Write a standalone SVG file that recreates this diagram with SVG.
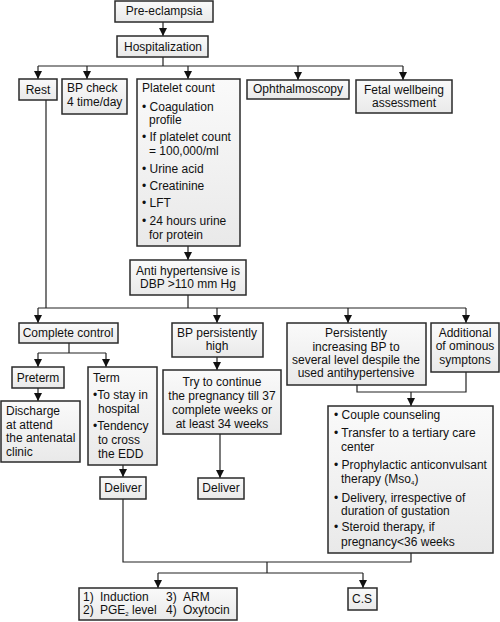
<svg xmlns="http://www.w3.org/2000/svg" width="500" height="622" viewBox="0 0 500 622">
<defs>
<linearGradient id="g" x1="0" y1="0" x2="0" y2="1"><stop offset="0" stop-color="#fafafa"/><stop offset="1" stop-color="#e9e9e9"/></linearGradient>
<marker id="ah" viewBox="0 0 10 10" refX="10" refY="5" markerWidth="8" markerHeight="8" markerUnits="userSpaceOnUse" orient="auto"><path d="M0,0 L10,5 L0,10 z" fill="#111"/></marker>
<style>
rect{fill:url(#g);stroke:#2a2a2a;stroke-width:1.5}
text{font-family:"Liberation Sans",Arial,sans-serif;font-size:12px;fill:#111}
.c{text-anchor:middle}
.con path{fill:none;stroke:#222;stroke-width:1.2}
.a{marker-end:url(#ah)}
.sub{font-size:6px}
</style>
</defs>
<rect x="0" y="0" width="500" height="622" style="fill:#fff;stroke:none"/>
<g class="con">
<path class="a" d="M163,22 V36"/>
<path d="M163,57 V66 M38,66 H403"/>
<path class="a" d="M38,66 V79"/>
<path class="a" d="M87,66 V79"/>
<path class="a" d="M188,66 V79"/>
<path class="a" d="M298,66 V80"/>
<path class="a" d="M403,66 V80"/>
<path class="a" d="M188,246 V260"/>
<path d="M46,100 V308 M188,295 V308 M38,308 H466"/>
<path class="a" d="M38,308 V323"/>
<path class="a" d="M217,308 V323"/>
<path class="a" d="M348,308 V323"/>
<path class="a" d="M466,308 V323"/>
<path d="M69,343 V353 M38,353 H106"/>
<path class="a" d="M38,353 V367"/>
<path class="a" d="M106,353 V367"/>
<path class="a" d="M38,388 V401"/>
<path class="a" d="M123,465 V477"/>
<path class="a" d="M217,357 V370"/>
<path class="a" d="M220,434 V478"/>
<path d="M357,385 V392 H466 V372"/>
<path class="a" d="M411,392 V406"/>
<path d="M123,499 V562 H411 V553 M267,562 V573 M158,573 H363"/>
<path class="a" d="M158,573 V588"/>
<path class="a" d="M363,573 V588"/>
</g>
<g id="pre"><rect x="115" y="1" width="98" height="21"/><text class="c" x="164" y="15">Pre-eclampsia</text></g>
<g id="hosp"><rect x="117" y="36" width="91" height="21"/><text class="c" x="163" y="51">Hospitalization</text></g>
<g id="rest"><rect x="19" y="79" width="38" height="21"/><text class="c" x="38" y="94">Rest</text></g>
<g id="bp"><rect x="62" y="79" width="65" height="35"/><text x="67" y="92">BP check</text><text x="67" y="106">4 time/day</text></g>
<g id="platelet"><rect x="137" y="79" width="103" height="167"/>
<text x="142" y="92">Platelet count</text>
<text x="142" y="111">• Coagulation</text><text x="149" y="124">profile</text>
<text x="142" y="141">• If platelet count</text><text x="149" y="155">= 100,000/ml</text>
<text x="142" y="173">• Urine acid</text>
<text x="142" y="190">• Creatinine</text>
<text x="142" y="207">• LFT</text>
<text x="142" y="225">• 24 hours urine</text><text x="149" y="239">for protein</text></g>
<g id="oph"><rect x="247" y="80" width="102" height="19"/><text class="c" x="298" y="93">Ophthalmoscopy</text></g>
<g id="fetal"><rect x="356" y="80" width="96" height="33"/><text class="c" x="404" y="94">Fetal wellbeing</text><text class="c" x="404" y="107">assessment</text></g>
<g id="anti"><rect x="130" y="260" width="116" height="35"/><text class="c" x="188" y="275">Anti hypertensive is</text><text class="c" x="188" y="288">DBP &gt;110 mm Hg</text></g>
<g id="complete"><rect x="19" y="323" width="99" height="20"/><text class="c" x="68" y="337">Complete control</text></g>
<g id="bphigh"><rect x="172" y="323" width="91" height="34"/><text class="c" x="217" y="337">BP persistently</text><text class="c" x="217" y="350">high</text></g>
<g id="persist"><rect x="287" y="323" width="139" height="62"/><text class="c" x="356" y="337">Persistently</text><text class="c" x="356" y="351">increasing BP to</text><text class="c" x="356" y="364">several level despile the</text><text class="c" x="356" y="377">used antihypertensive</text></g>
<g id="additional"><rect x="431" y="323" width="68" height="49"/><text class="c" x="465" y="337">Additional</text><text class="c" x="465" y="350">of ominous</text><text class="c" x="465" y="364">symptons</text></g>
<g id="preterm"><rect x="12" y="367" width="52" height="21"/><text class="c" x="38" y="382">Preterm</text></g>
<g id="term"><rect x="88" y="367" width="69" height="98"/>
<text x="93" y="382">Term</text>
<text x="93" y="399">•To stay in</text><text x="98" y="413">hospital</text>
<text x="93" y="430">•Tendency</text><text x="98" y="444">to cross</text><text x="98" y="458">the EDD</text></g>
<g id="discharge"><rect x="1" y="401" width="79" height="61"/><text x="6" y="415">Discharge</text><text x="6" y="429">at attend</text><text x="6" y="442">the antenatal</text><text x="6" y="456">clinic</text></g>
<g id="try"><rect x="163" y="370" width="118" height="64"/><text class="c" x="222" y="386">Try to continue</text><text class="c" x="222" y="400">the pregnancy till 37</text><text class="c" x="222" y="414">complete weeks or</text><text class="c" x="222" y="428">at least 34 weeks</text></g>
<g id="deliver1"><rect x="100" y="477" width="46" height="22"/><text class="c" x="123" y="492">Deliver</text></g>
<g id="deliver2"><rect x="198" y="478" width="46" height="21"/><text class="c" x="221" y="492">Deliver</text></g>
<g id="mgmt"><rect x="328" y="406" width="165" height="147"/>
<text x="334" y="419">• Couple counseling</text>
<text x="334" y="437">• Transfer to a tertiary care</text><text x="341" y="451">center</text>
<text x="334" y="469">• Prophylactic anticonvulsant</text><text x="341" y="483">therapy (Mso<tspan class="sub" dy="2">4</tspan><tspan dy="-2">)</tspan></text>
<text x="334" y="502">• Delivery, irrespective of</text><text x="341" y="515">duration of gustation</text>
<text x="334" y="531">• Steroid therapy, if</text><text x="341" y="546">pregnancy&lt;36 weeks</text></g>
<g id="induction"><rect x="79" y="588" width="158" height="32"/>
<text x="83" y="601">1)</text><text x="100" y="601">Induction</text><text x="166" y="601">3)</text><text x="183" y="601">ARM</text>
<text x="83" y="614">2)</text><text x="100" y="614">PGE<tspan class="sub" dy="2">2</tspan><tspan dy="-2"> level</tspan></text><text x="166" y="614">4)</text><text x="183" y="614">Oxytocin</text></g>
<g id="cs"><rect x="348" y="588" width="29" height="22"/><text class="c" x="362" y="603">C.S</text></g>
</svg>
